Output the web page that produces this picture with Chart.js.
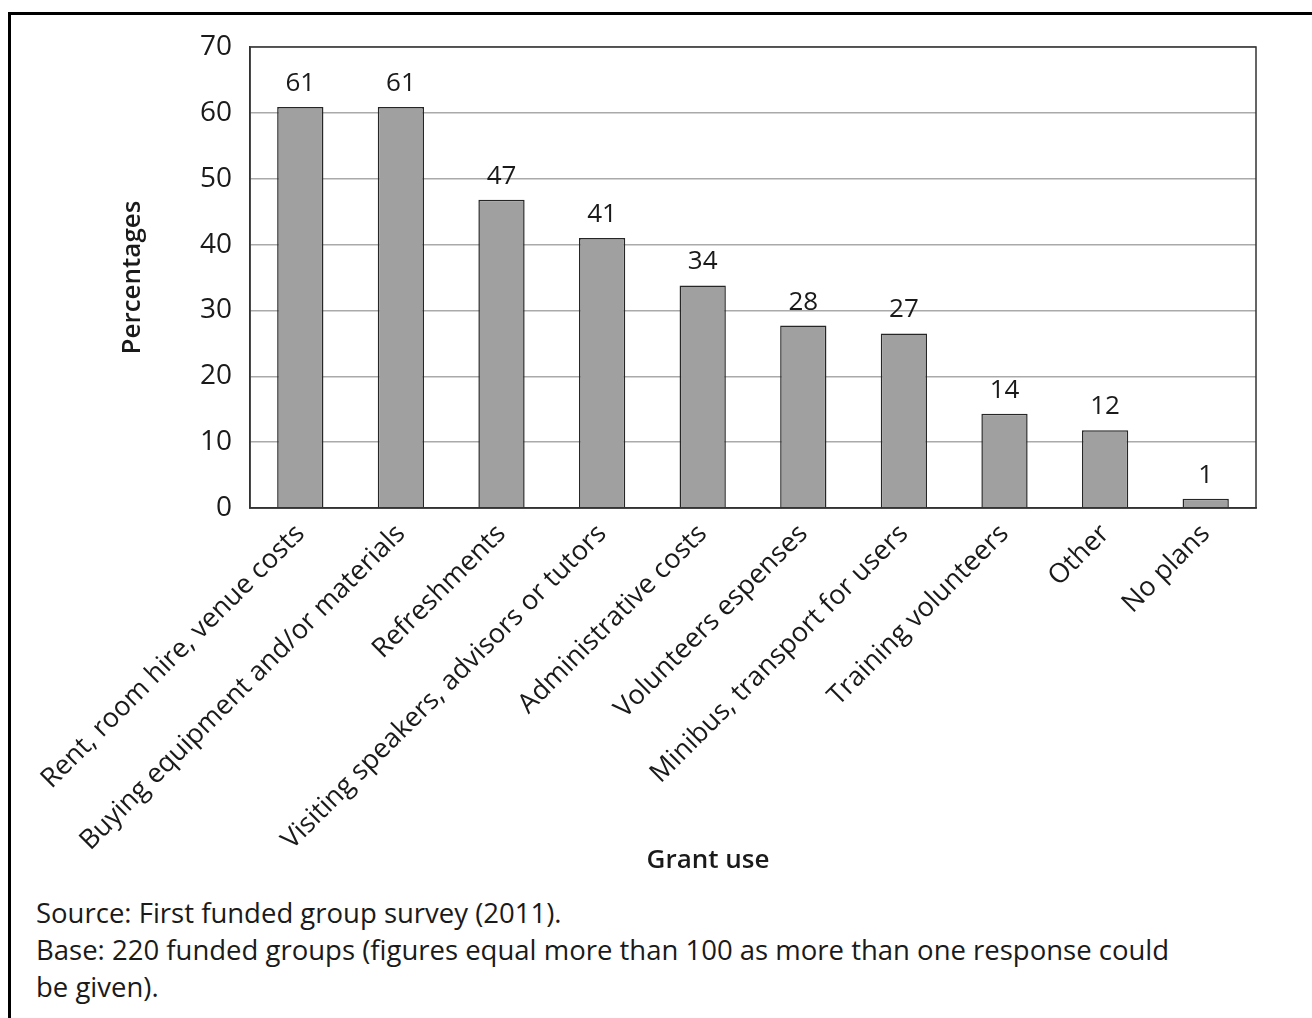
<!DOCTYPE html>
<html lang="en">
<head>
    <meta charset="UTF-8">
    <title>Grant use</title>
    <script src="https://cdn.jsdelivr.net/npm/chart.js"></script>
    <style>
        body {
            margin: 0;
            background: #fff;
            font-family: 'Open Sans', sans-serif;
            color: #1a1a1a;
        }
        .frame {
            position: absolute;
            left: 8px;
            top: 12px;
            width: 1320px;
            height: 1020px;
            border-top: 3px solid #000;
            border-left: 3px solid #000;
        }
        .chart-box {
            position: absolute;
            left: 0;
            top: 0;
            width: 1312px;
            height: 880px;
        }
        .x-title {
            position: absolute;
            left: 608px;
            width: 200px;
            top: 840px;
            text-align: center;
            font-size: 26px;
            font-weight: 600;
            line-height: 36px;
        }
        .note {
            position: absolute;
            left: 36px;
            top: 894px;
            font-size: 27.5px;
            line-height: 37px;
            width: 1260px;
            white-space: nowrap;
        }
    </style>
</head>
<body>
    <div class="frame"></div>
    <div class="chart-box"><canvas id="grantChart"></canvas></div>
    <div class="x-title">Grant use</div>
    <div class="note">
        Source: First funded group survey (2011).<br>
        Base: 220 funded groups (figures equal more than 100 as more than one response could<br>
        be given).
    </div>

    <script>
        const categories = ['Rent, room hire, venue costs', 'Buying equipment and/or materials', 'Refreshments',
            'Visiting speakers, advisors or tutors', 'Administrative costs', 'Volunteers espenses',
            'Minibus, transport for users', 'Training volunteers', 'Other', 'No plans'];
        const percentages = [60.9, 60.9, 46.8, 41.0, 33.8, 27.7, 26.5, 14.3, 11.8, 1.4];
        const yTicks = [0, 10, 20, 30, 40, 50, 60, 70];

        // box round the plot area + value labels over bars
        const plotExtras = {
            id: 'plotExtras',
            afterDatasetsDraw(chart) {
                const { ctx, chartArea } = chart;
                ctx.save();
                ctx.strokeStyle = '#333';
                ctx.lineWidth = 1.5;
                ctx.strokeRect(chartArea.left, chartArea.top, chartArea.right - chartArea.left, chartArea.bottom - chartArea.top);
                ctx.fillStyle = '#1a1a1a';
                ctx.font = '26px "Open Sans"';
                ctx.textAlign = 'center';
                ctx.textBaseline = 'alphabetic';
                chart.getDatasetMeta(0).data.forEach((bar, i) => {
                    ctx.fillText(Math.round(percentages[i]), bar.x, bar.y - 16);
                });
                ctx.restore();
            }
        };

        new Chart(document.getElementById('grantChart'), {
            type: 'bar',
            data: {
                labels: categories,
                datasets: [{
                    data: percentages,
                    backgroundColor: '#a0a0a0',
                    borderColor: '#262626',
                    borderWidth: 1.5,
                    barPercentage: 0.46,
                    categoryPercentage: 1
                }]
            },
            options: {
                responsive: true,
                maintainAspectRatio: false,
                animation: false,
                layout: { padding: { left: 117, top: 47, right: 56, bottom: 0 } },
                plugins: {
                    legend: { display: false },
                    tooltip: { enabled: false }
                },
                scales: {
                    x: {
                        grid: { display: false },
                        border: { color: '#333', width: 1.5 },
                        ticks: {
                            color: '#1a1a1a',
                            font: { family: 'Open Sans', size: 27 },
                            maxRotation: 45,
                            minRotation: 45,
                            autoSkip: false,
                            padding: 2
                        },
                        afterFit(scale) { scale.height = 372; }
                    },
                    y: {
                        min: 0,
                        max: 70,
                        afterBuildTicks(scale) { scale.ticks = yTicks.map(v => ({ value: v })); },
                        grid: { color: '#aaa', lineWidth: 1.5, drawTicks: false },
                        border: { color: '#333', width: 1.5 },
                        ticks: {
                            color: '#1a1a1a',
                            font: { family: 'Open Sans', size: 28 },
                            padding: 18
                        },
                        title: {
                            display: true,
                            text: 'Percentages',
                            color: '#1a1a1a',
                            font: { family: 'Open Sans', size: 26, weight: '600' },
                            padding: { top: 0, bottom: 0 }
                        },
                        afterFit(scale) { scale.width = 133; }
                    }
                }
            },
            plugins: [plotExtras]
        });
    </script>
</body>
</html>
